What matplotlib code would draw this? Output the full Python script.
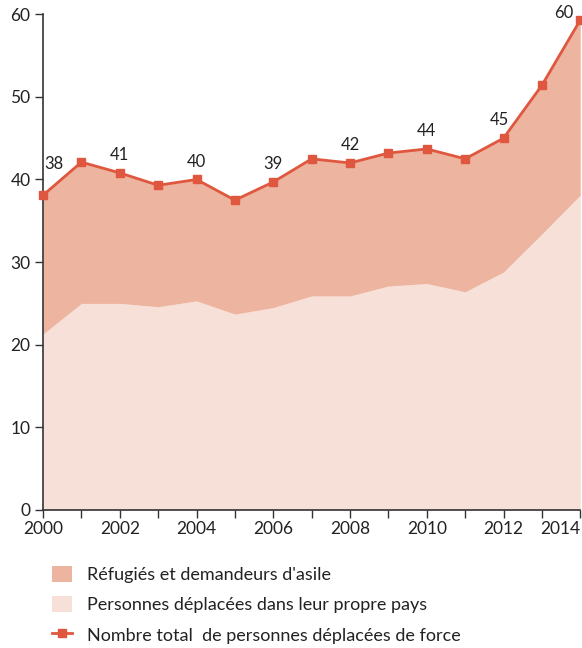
import numpy as np
import matplotlib
matplotlib.use("Agg")
import matplotlib.pyplot as plt
from matplotlib.patches import Patch
from matplotlib.lines import Line2D

plt.rcParams['font.family'] = ['Lato', 'DejaVu Sans']

years = np.arange(2000, 2015)
total = [38.1, 42.1, 40.8, 39.3, 40.0, 37.5, 39.7, 42.5, 42.0, 43.2, 43.7, 42.5, 45.0, 51.4, 59.3]
idp = [21.3, 25.0, 25.0, 24.6, 25.3, 23.7, 24.5, 25.9, 25.9, 27.1, 27.4, 26.4, 28.8, 33.4, 38.1]
label_years = [2000, 2002, 2004, 2006, 2008, 2010, 2012, 2014]
label_text = ["38", "41", "40", "39", "42", "44", "45", "60"]

c_line = "#E0573F"
c_ref = "#EDB49F"
c_idp = "#F7E0D7"
c_axis = "#333333"

fig = plt.figure(figsize=(5.82, 6.48), dpi=100)
ax = fig.add_axes([0.074, 0.213, 0.923, 0.765])

ax.fill_between(years, 0, idp, color=c_idp, lw=0)
ax.fill_between(years, idp, total, color=c_ref, lw=0)
ax.plot(years, total, color=c_line, lw=2, marker='s', ms=6, clip_on=False, zorder=5)

# value labels
for yr, txt in zip(label_years, label_text):
    v = total[yr - 2000]
    if yr == 2000:
        ax.annotate(txt, (yr, v), xytext=(1, 17), textcoords='offset points',
                    ha='left', va='bottom', fontsize=12, color="#222222")
    elif yr == 2014:
        ax.annotate(txt, (yr, v), xytext=(-5, -1), textcoords='offset points',
                    ha='right', va='bottom', fontsize=12, color="#222222")
    else:
        dx = -3 if yr == 2012 else 0
        ax.annotate(txt, (yr, v), xytext=(dx, 7), textcoords='offset points',
                    ha='center', va='bottom', fontsize=12, color="#222222")

ax.set_xlim(2000, 2014)
ax.set_ylim(0, 60)
ax.set_xticks(years)
ax.set_xticklabels([str(y) if y % 2 == 0 else "" for y in years])
ax.get_xticklabels()[-1].set_ha('right')
ax.set_yticks(range(0, 61, 10))
for s in ['top', 'right']:
    ax.spines[s].set_visible(False)
for s in ['left', 'bottom']:
    ax.spines[s].set_color(c_axis)
    ax.spines[s].set_linewidth(1.2)
ax.tick_params(colors=c_axis, labelcolor="#222222", labelsize=12.5, length=6, width=1)
ax.tick_params(axis='y', pad=3)
ax.tick_params(axis='x', pad=2)

handles = [
    Patch(facecolor=c_ref, edgecolor='none'),
    Patch(facecolor=c_idp, edgecolor='none'),
    Line2D([0], [0], color=c_line, lw=2, marker='s', ms=6),
]
labels = [
    "Réfugiés et demandeurs d'asile",
    "Personnes déplacées dans leur propre pays",
    "Nombre total  de personnes déplacées de force",
]
fig.legend(handles, labels, loc='upper left', bbox_to_anchor=(0.062, 0.152),
           frameon=False, fontsize=13, labelspacing=0.72, handlelength=1.1,
           handleheight=1.0, handletextpad=0.8, labelcolor="#222222")

fig.savefig("out.png", dpi=100)
